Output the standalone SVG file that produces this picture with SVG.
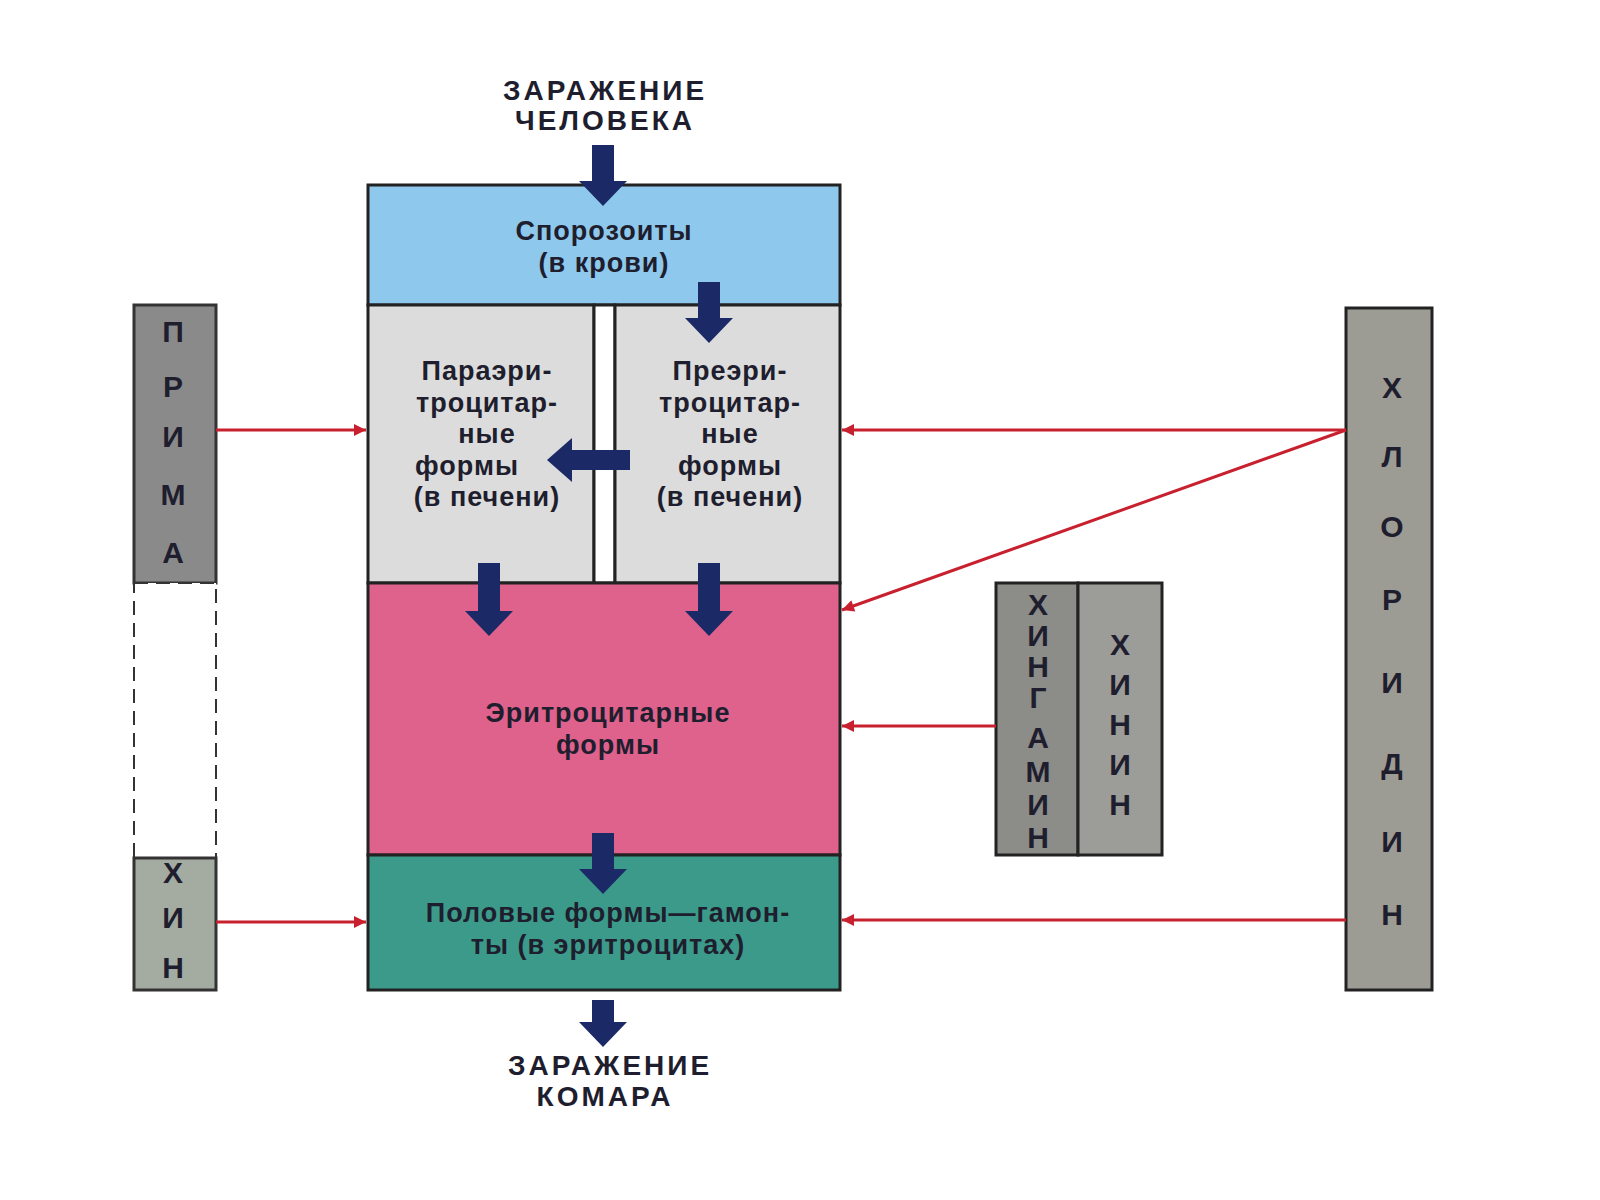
<svg xmlns="http://www.w3.org/2000/svg" width="1600" height="1200" viewBox="0 0 1600 1200">
<defs>
<marker id="rab" viewBox="0 0 10 10" refX="10" refY="5" markerWidth="22" markerHeight="12" markerUnits="userSpaceOnUse" orient="auto"><path d="M0,0 L10,5 L0,10 z" fill="#c8202e"/></marker>
<style>
text{font-family:"Liberation Sans",Arial,sans-serif;font-weight:bold;fill:#1e1e2e;text-anchor:middle}
.t{font-size:27px;letter-spacing:1px}
.h{font-size:28px;letter-spacing:3px}
.v{font-size:30px}
.red{stroke:#c8202e;stroke-width:3;fill:none}
.blk{fill:#1b2a66}
.box{stroke:#222;stroke-width:3}
</style>
</defs>
<rect width="1600" height="1200" fill="#fff"/>
<g id="title-top"><text class="h" x="605" y="100">ЗАРАЖЕНИЕ</text><text class="h" x="605" y="130">ЧЕЛОВЕКА</text></g>
<g id="sporo"><rect class="box" x="368" y="185" width="472" height="120" fill="#8ec8ec"/><text class="t" x="604" y="240">Спорозоиты</text><text class="t" x="604" y="272">(в крови)</text></g>
<g id="para"><rect class="box" x="368" y="305" width="226" height="278" fill="#dcdcdc"/><text class="t" x="487" y="380">Параэри-</text><text class="t" x="487" y="412">троцитар-</text><text class="t" x="487" y="443">ные</text><text class="t" x="467" y="475">формы</text><text class="t" x="487" y="506">(в печени)</text></g>
<g id="divider"><rect x="594" y="305" width="21" height="278" fill="#fff" stroke="#222" stroke-width="3"/></g>
<g id="pre"><rect class="box" x="615" y="305" width="225" height="278" fill="#dcdcdc"/><text class="t" x="730" y="380">Преэри-</text><text class="t" x="730" y="412">троцитар-</text><text class="t" x="730" y="443">ные</text><text class="t" x="730" y="475">формы</text><text class="t" x="730" y="506">(в печени)</text></g>
<g id="ery"><rect class="box" x="368" y="583" width="472" height="272" fill="#df628c"/><text class="t" x="608" y="722">Эритроцитарные</text><text class="t" x="608" y="754">формы</text></g>
<g id="gam"><rect class="box" x="368" y="855" width="472" height="135" fill="#3c9a8a"/><text class="t" x="608" y="922">Половые формы—гамон-</text><text class="t" x="608" y="954">ты  (в эритроцитах)</text></g>
<g id="title-bot"><text class="h" x="610" y="1075">ЗАРАЖЕНИЕ</text><text class="h" x="605" y="1106">КОМАРА</text></g>
<g id="prima"><rect x="134" y="305" width="82" height="278" fill="#8a8a8a" stroke="#333" stroke-width="3"/><rect x="134" y="583" width="82" height="275" fill="#fff" stroke="#333" stroke-width="2" stroke-dasharray="14,8"/><rect x="134" y="858" width="82" height="132" fill="#a4aca2" stroke="#333" stroke-width="3"/>
<text class="v" x="173" y="342">П</text><text class="v" x="173" y="397">Р</text><text class="v" x="173" y="447">И</text><text class="v" x="173" y="505">М</text><text class="v" x="173" y="563">А</text><text class="v" x="173" y="883">Х</text><text class="v" x="173" y="928">И</text><text class="v" x="173" y="978">Н</text></g>
<g id="hingamin"><rect x="996" y="583" width="82" height="272" fill="#8c8c88" stroke="#222" stroke-width="3"/><text class="v" x="1038" y="615">Х</text><text class="v" x="1038" y="646">И</text><text class="v" x="1038" y="677">Н</text><text class="v" x="1038" y="708">Г</text><text class="v" x="1038" y="748">А</text><text class="v" x="1038" y="782">М</text><text class="v" x="1038" y="815">И</text><text class="v" x="1038" y="848">Н</text></g>
<g id="hinin"><rect x="1078" y="583" width="84" height="272" fill="#9c9c98" stroke="#222" stroke-width="3"/><text class="v" x="1120" y="655">Х</text><text class="v" x="1120" y="695">И</text><text class="v" x="1120" y="735">Н</text><text class="v" x="1120" y="775">И</text><text class="v" x="1120" y="815">Н</text></g>
<g id="hlorid"><rect x="1346" y="308" width="86" height="682" fill="#9c9c94" stroke="#222" stroke-width="3"/><text class="v" x="1392" y="398">Х</text><text class="v" x="1392" y="467">Л</text><text class="v" x="1392" y="537">О</text><text class="v" x="1392" y="610">Р</text><text class="v" x="1392" y="693">И</text><text class="v" x="1392" y="774">Д</text><text class="v" x="1392" y="852">И</text><text class="v" x="1392" y="925">Н</text></g>
<g id="connectors">
<path class="red" d="M216,430 H366" marker-end="url(#rab)"/>
<path class="red" d="M216,922 H366" marker-end="url(#rab)"/>
<path class="red" d="M1346,430 H842" marker-end="url(#rab)"/>
<path class="red" d="M1346,430 L842,610" marker-end="url(#rab)"/>
<path class="red" d="M996,726 H842" marker-end="url(#rab)"/>
<path class="red" d="M1346,920 H842" marker-end="url(#rab)"/>
<path class="blk" d="M592,145 h22 v36 h13 l-24,25 l-24,-25 h13 z"/>
<path class="blk" d="M698,282 h22 v36 h13 l-24,25 l-24,-25 h13 z"/>
<path class="blk" d="M630,450 v20 h-58 v12 l-25,-22 l25,-22 v12 z"/>
<path class="blk" d="M478,563 h22 v48 h13 l-24,25 l-24,-25 h13 z"/>
<path class="blk" d="M698,563 h22 v48 h13 l-24,25 l-24,-25 h13 z"/>
<path class="blk" d="M592,833 h22 v36 h13 l-24,25 l-24,-25 h13 z"/>
<path class="blk" d="M592,1000 h22 v22 h13 l-24,25 l-24,-25 h13 z"/>
</g>
</svg>
